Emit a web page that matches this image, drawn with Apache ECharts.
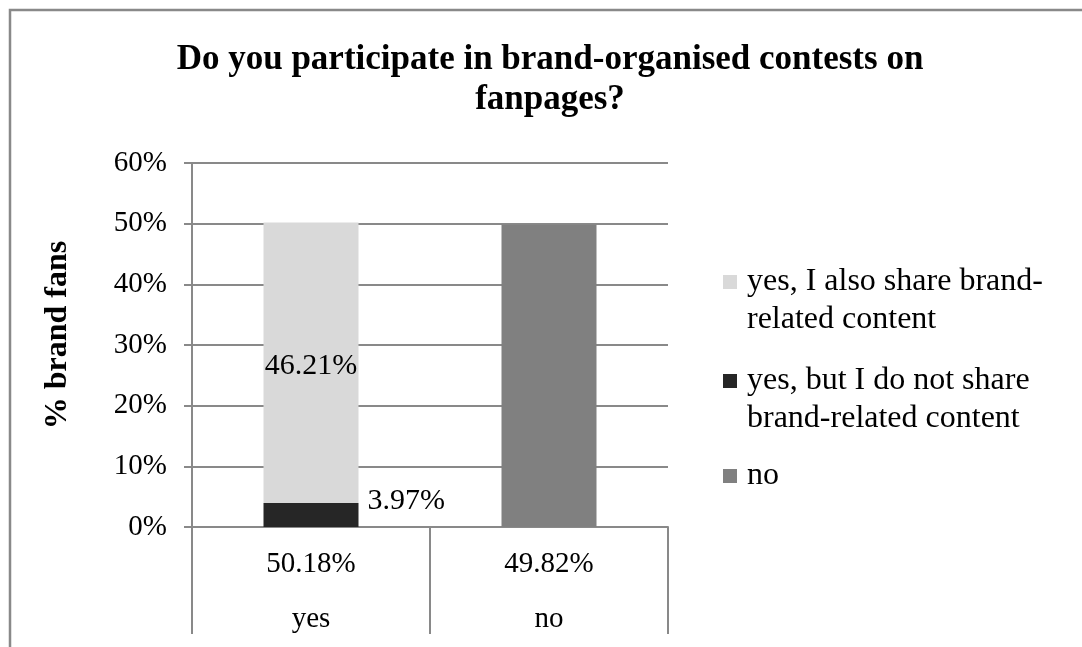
<!DOCTYPE html>
<html>
<head>
<meta charset="utf-8">
<title>Brand contests on fanpages</title>
<script src="https://cdn.jsdelivr.net/npm/echarts@6/dist/echarts.min.js"></script>
<style>
  html, body { margin: 0; padding: 0; background: #fff; }
  #chart { width: 1082px; height: 647px; }
</style>
</head>
<body>
<div id="chart"></div>
<script>
    // ---- data ----
    var categories = ['yes', 'no'];
    var categoryShares = ['50.18%', '49.82%'];      // inner level of the category axis
    var seriesNames = [
        'yes, I also share brand-related content',
        'yes, but I do not share brand-related content',
        'no'
    ];
    var legendLabels = [
        'yes, I also share brand-\nrelated content',
        'yes, but I do not share\nbrand-related content',
        'no'
    ];
    var alsoShare = [46.21, null];
    var notShare = [3.97, null];
    var noPart = [null, 49.82];
    var yMin = 0, yMax = 60, yStep = 10;

    var serif = "'Liberation Serif', 'Times New Roman', serif";
    var gridGray = '#898989';

    // square marker sitting on the first text line (Excel style) - the
    // zero-area segment only stretches the icon box
    var iconTwoLine = 'path://M0,0L14,0L14,14L0,14Z M0,52L19,52';
    var iconOneLine = 'path://M0,0L14,0L14,14L0,14Z M14,7L19,7';

    var legendText = {
        fontFamily: serif,
        fontSize: 32,
        lineHeight: 38,
        color: '#000'
    };
    function legendFormatter(name) {
        return legendLabels[seriesNames.indexOf(name)];
    }

    var myChart = echarts.init(document.getElementById('chart'));

    var option = {
        animation: false,
        backgroundColor: '#fff',
        textStyle: { fontFamily: serif, color: '#000' },
        graphic: [{
            type: 'rect',
            shape: { x: 10, y: 10, width: 1100, height: 700 },
            style: { fill: 'none', stroke: gridGray, lineWidth: 2.5 },
            silent: true
        }],
        title: {
            text: 'Do you participate in brand-organised contests on\nfanpages?',
            left: 550,
            top: 40,
            padding: 0,
            textAlign: 'center',
            textStyle: {
                fontFamily: serif,
                fontWeight: 'bold',
                fontSize: 35,
                lineHeight: 40,
                color: '#000'
            }
        },
        legend: [
            {
                orient: 'vertical',
                left: 723,
                top: 263,
                padding: 0,
                itemGap: 23,
                itemWidth: 19,
                itemHeight: 52,
                icon: iconTwoLine,
                selectedMode: false,
                formatter: legendFormatter,
                textStyle: legendText,
                data: [seriesNames[0], seriesNames[1]]
            },
            {
                orient: 'vertical',
                left: 723,
                top: 457,
                padding: 0,
                itemWidth: 19,
                itemHeight: 14,
                icon: iconOneLine,
                selectedMode: false,
                formatter: legendFormatter,
                textStyle: legendText,
                data: [seriesNames[2]]
            }
        ],
        grid: {
            left: 192,
            right: 414,
            top: 163,
            bottom: 117,
            containLabel: false
        },
        xAxis: {
            type: 'category',
            data: categories,
            axisLine: { show: true, lineStyle: { color: gridGray, width: 2 } },
            axisTick: {
                show: true,
                interval: 0,
                alignWithLabel: false,
                length: 107,
                lineStyle: { color: gridGray, width: 2 }
            },
            axisLabel: {
                interval: 0,
                margin: 10,
                fontFamily: serif,
                fontSize: 29,
                lineHeight: 55,
                color: '#000',
                formatter: function(value, idx) {
                    return categoryShares[idx] + '\n' + value;
                }
            }
        },
        yAxis: {
            type: 'value',
            min: yMin,
            max: yMax,
            interval: yStep,
            name: '% brand fans',
            nameLocation: 'middle',
            nameGap: 118,
            nameTextStyle: {
                fontFamily: serif,
                fontWeight: 'bold',
                fontSize: 32,
                color: '#000',
                padding: [0, 0, 0, 20]
            },
            axisLine: { show: true, lineStyle: { color: gridGray, width: 2 } },
            axisTick: { show: true, length: 8, lineStyle: { color: gridGray, width: 2 } },
            axisLabel: {
                margin: 25,
                fontFamily: serif,
                fontSize: 29,
                color: '#000',
                formatter: '{value}%'
            },
            splitLine: { show: true, lineStyle: { color: gridGray, width: 2 } }
        },
        series: [
            {
                name: seriesNames[1],
                type: 'bar',
                stack: 'total',
                barWidth: 95,
                itemStyle: { color: '#262626' },
                label: {
                    show: true,
                    position: 'right',
                    distance: 9,
                    offset: [0, -14],
                    fontFamily: serif,
                    fontSize: 30,
                    color: '#000',
                    formatter: '{c}%'
                },
                data: notShare
            },
            {
                name: seriesNames[0],
                type: 'bar',
                stack: 'total',
                barWidth: 95,
                itemStyle: { color: '#d9d9d9' },
                label: {
                    show: true,
                    position: 'inside',
                    offset: [0, 3],
                    fontFamily: serif,
                    fontSize: 30,
                    color: '#000',
                    formatter: '{c}%'
                },
                data: alsoShare
            },
            {
                name: seriesNames[2],
                type: 'bar',
                stack: 'total',
                barWidth: 95,
                itemStyle: { color: '#808080' },
                data: noPart
            }
        ]
    };

    myChart.setOption(option);
</script>
</body>
</html>
